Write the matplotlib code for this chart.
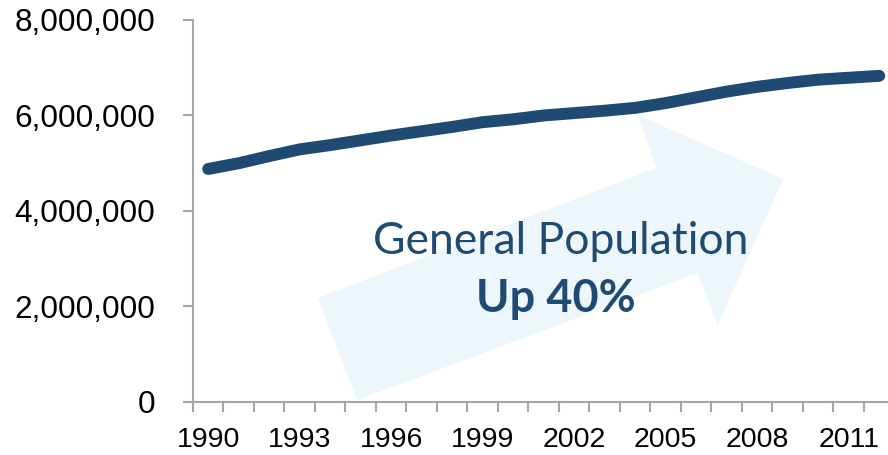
import matplotlib.pyplot as plt
import numpy as np
from matplotlib.patches import Polygon
from matplotlib.ticker import FuncFormatter

years = list(range(1990, 2013))
population = [4880000, 5000000, 5150000, 5290000, 5380000, 5480000, 5580000,
              5670000, 5760000, 5860000, 5920000, 6000000, 6050000, 6100000,
              6160000, 6260000, 6380000, 6500000, 6600000, 6680000, 6750000,
              6790000, 6830000]
label_years = [1990, 1993, 1996, 1999, 2002, 2005, 2008, 2011]
y_ticks = [0, 2000000, 4000000, 6000000, 8000000]

navy = '#1f4a72'
grey = '#a6a6a6'

fig = plt.figure(figsize=(8.88, 4.55), dpi=100)
ax = fig.add_axes([0.2173, 0.1165, 0.790, 0.8396])

# background arrow (axes fraction coords)
arrow = [(0.178, 0.272), (0.661, 0.613), (0.634, 0.751), (0.841, 0.584),
         (0.748, 0.202), (0.720, 0.338), (0.234, 0.005)]
ax.add_patch(Polygon(arrow, closed=True, transform=ax.transAxes,
                     facecolor='#edf6fa', edgecolor='none', zorder=0))

ax.plot(years, population, color=navy, lw=8.6, solid_capstyle='round',
        solid_joinstyle='round', zorder=3, clip_on=False)

ax.set_xlim(1989.5, 2012.5)
ax.set_ylim(0, 8000000)

ax.set_xticks(np.arange(1989.5, 2013, 1))
ax.set_xticklabels([])
ax.set_xticks(label_years, minor=True)
ax.set_xticklabels([str(y) for y in label_years], minor=True,
                   fontsize=20.5, family='Liberation Sans')
ax.tick_params(axis='x', which='major', length=7, width=1.5, color=grey,
               direction='out')
ax.tick_params(axis='x', which='minor', length=0, pad=18)

ax.set_yticks(y_ticks)
ax.yaxis.set_major_formatter(FuncFormatter(lambda v, p: f'{int(v):,}'))
ax.tick_params(axis='y', length=7, width=1.5, color=grey, pad=20,
               labelsize=22.7)
for lbl in ax.get_yticklabels():
    lbl.set_family('Liberation Sans')

for s in ['top', 'right']:
    ax.spines[s].set_visible(False)
for s in ['left', 'bottom']:
    ax.spines[s].set_color(grey)
    ax.spines[s].set_linewidth(1.5)

ax.text(0.524, 0.421, 'General Population', transform=ax.transAxes,
        ha='center', va='center', fontsize=32, color=navy, family='Lato')
ax.text(0.517, 0.27, 'Up 40%', transform=ax.transAxes,
        ha='center', va='center', fontsize=32.5, color=navy, family='Lato',
        fontweight='bold')

fig.savefig('out.png', dpi=100)
